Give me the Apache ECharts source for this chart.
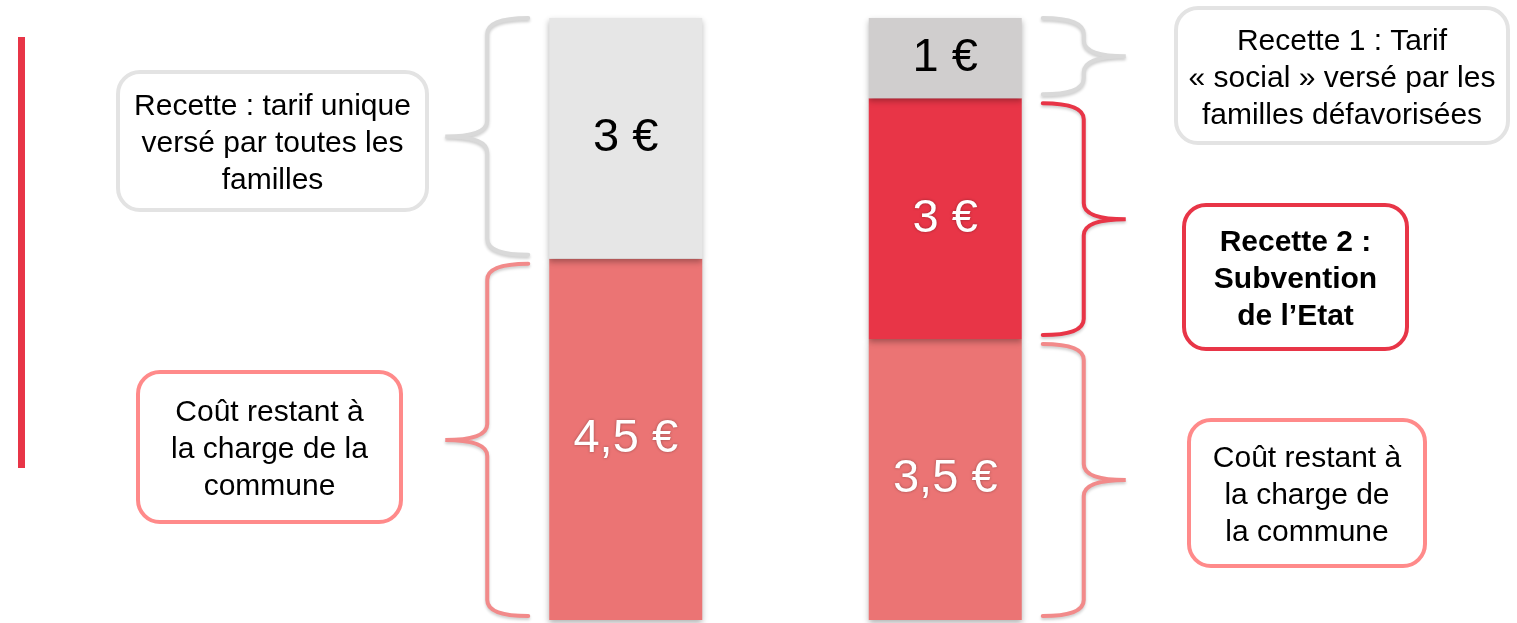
<!DOCTYPE html>
<html lang="fr">
<head>
<meta charset="utf-8">
<title>Tarif unique / tarif social</title>
<script src="https://cdn.jsdelivr.net/npm/echarts@6/dist/echarts.min.js"></script>
<style>
  html, body { margin: 0; padding: 0; background: #fff; }
  #chart { width: 1517px; height: 623px; }
</style>
</head>
<body>
<div id="chart"></div>
<script>
// données (en euros), de bas en haut dans chaque barre
const categories = ['Tarif unique', 'Tarif social']
const coutCommune = [4.5, 3.5]
const subventionEtat = ['-', 3]
const tarifFamilles = [3, 1]

// couleurs
const PINK = '#EB7474'
const RED = '#E83547'
const GRAY_LIGHT = '#E6E6E6'
const GRAY = '#D0CECE'
const BAR_WIDTH = 153

const euro = (v) => String(v).replace('.', ',') + ' €'

const chart = echarts.init(document.getElementById('chart'))

// accolades : une par segment, calculées à partir des valeurs empilées
const segments = [coutCommune, subventionEtat, tarifFamilles]
const braceColors = ['#F28A8A', RED, '#D9D9D9']
const braces = []
categories.forEach((c, i) => {
  let base = 0
  segments.forEach((serie, s) => {
    const v = serie[i]
    if (typeof v !== 'number') return
    braces.push({ value: [i, base, base + v, s] })
    base += v
  })
})

const renderBrace = (params, api) => {
  const cat = api.value(0)
  const kind = api.value(3)
  const lo = api.coord([cat, api.value(1)])
  const hi = api.coord([cat, api.value(2)])
  const dir = cat === 0 ? -1 : 1
  const half = BAR_WIDTH / 2
  const xEdge = lo[0] + dir * (half + 21)
  const xSpine = lo[0] + dir * (half + 62)
  const xTip = lo[0] + dir * (half + 104)
  const yTop = hi[1] + (kind === 2 ? 0 : 5)
  const yBot = lo[1] - 4
  const yMid = (yTop + yBot) / 2
  const r = 16
  const d = [
    'M', xEdge, yTop,
    'Q', xSpine, yTop, xSpine, yTop + r,
    'L', xSpine, yMid - r,
    'Q', xSpine, yMid, xTip, yMid,
    'Q', xSpine, yMid, xSpine, yMid + r,
    'L', xSpine, yBot - r,
    'Q', xSpine, yBot, xEdge, yBot
  ].join(' ')
  return {
    type: 'path',
    shape: { pathData: d },
    style: {
      fill: 'none',
      stroke: braceColors[kind],
      lineWidth: 4,
      lineCap: 'round',
      shadowBlur: 3,
      shadowOffsetY: 2,
      shadowColor: 'rgba(0,0,0,0.2)'
    }
  }
}

// encadrés de texte
const callout = (x, y, w, h, color, lines, bold) => ({
  type: 'group',
  x: x,
  y: y,
  children: [
    {
      type: 'rect',
      shape: { x: 0, y: 0, width: w, height: h, r: 22 },
      style: { fill: '#fff', stroke: color, lineWidth: 4 }
    },
    {
      type: 'text',
      x: w / 2,
      y: h / 2 + 3,
      style: {
        text: lines.join('\n'),
        fill: '#000',
        font: (bold ? 'bold ' : '') + '30px "Liberation Sans", Arial, sans-serif',
        lineHeight: 37,
        align: 'center',
        verticalAlign: 'middle'
      }
    }
  ]
})

const segLabel = (color, shadow) => ({
  show: true,
  position: 'inside',
  formatter: (p) => euro(p.value),
  color: color,
  fontSize: 47,
  fontFamily: '"Liberation Sans", Arial, sans-serif',
  textBorderWidth: 0,
  textShadowBlur: shadow ? 3 : 0,
  textShadowColor: 'rgba(0,0,0,0.35)'
})

const barShadow = {
  shadowBlur: 6,
  shadowOffsetY: 3,
  shadowColor: 'rgba(0,0,0,0.3)'
}

const option = {
  animation: false,
  grid: { left: 466, right: 412, top: 18, bottom: 3 },
  xAxis: { type: 'category', data: categories, show: false },
  yAxis: { type: 'value', min: 0, max: 7.5, show: false },
  series: [
    {
      name: 'Coût restant à la charge de la commune',
      type: 'bar',
      stack: 'cout',
      barWidth: BAR_WIDTH,
      data: coutCommune,
      itemStyle: { color: PINK, ...barShadow },
      label: segLabel('#fff', true)
    },
    {
      name: 'Subvention de l’Etat',
      type: 'bar',
      stack: 'cout',
      barWidth: BAR_WIDTH,
      data: subventionEtat,
      itemStyle: { color: RED, ...barShadow },
      label: segLabel('#fff', true)
    },
    {
      name: 'Tarif versé par les familles',
      type: 'bar',
      stack: 'cout',
      barWidth: BAR_WIDTH,
      data: tarifFamilles.map((v, i) => ({
        value: v,
        itemStyle: { color: i === 0 ? GRAY_LIGHT : GRAY }
      })),
      itemStyle: barShadow,
      label: segLabel('#000', false)
    },
    {
      type: 'custom',
      renderItem: renderBrace,
      data: braces,
      silent: true,
      z: 1
    }
  ],
  graphic: [
    {
      type: 'rect',
      shape: { x: 18, y: 37, width: 7, height: 431 },
      style: { fill: RED }
    },
    callout(118, 72, 309, 138, '#E3E3E3',
      ['Recette : tarif unique', 'versé par toutes les', 'familles'], false),
    callout(138, 372, 263, 150, '#FF8A8A',
      ['Coût restant à', 'la charge de la', 'commune'], false),
    callout(1176, 8, 332, 135, '#E3E3E3',
      ['Recette 1 : Tarif', '« social » versé par les', 'familles défavorisées'], false),
    callout(1184, 205, 223, 144, RED,
      ['Recette 2 :', 'Subvention', 'de l’Etat'], true),
    callout(1189, 420, 236, 146, '#FF8A8A',
      ['Coût restant à', 'la charge de', 'la commune'], false)
  ]
}

chart.setOption(option)
</script>
</body>
</html>
